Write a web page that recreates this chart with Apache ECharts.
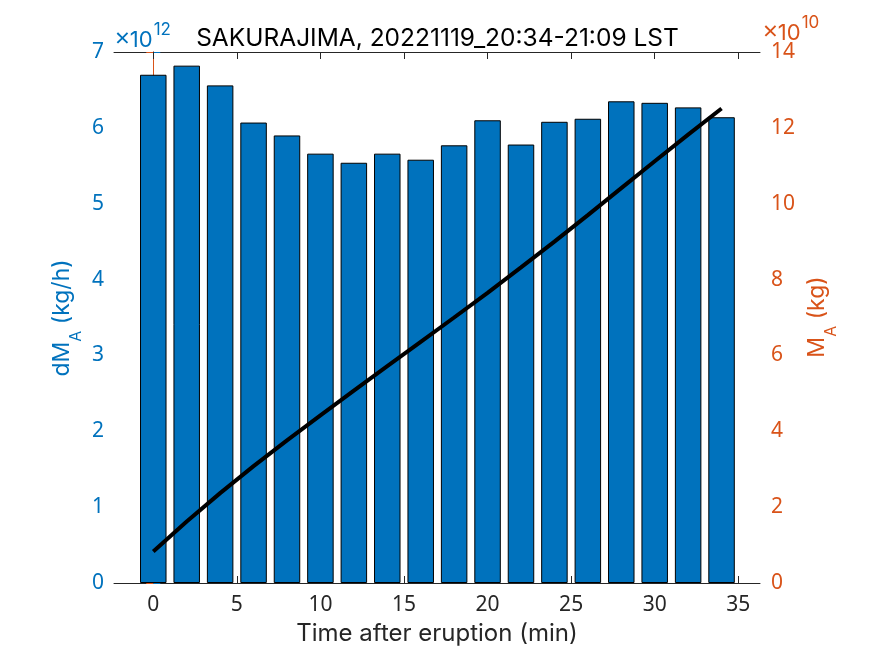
<!DOCTYPE html>
<html><head><meta charset="utf-8">
<script src="https://cdn.jsdelivr.net/npm/echarts@6/dist/echarts.min.js"></script>
<style>html,body{margin:0;padding:0;background:#fff}#c{width:875px;height:656px}</style>
</head><body><div id="c"></div>
<script>
// Time after eruption (min)
const timeMin = [0, 2, 4, 6, 8, 10, 12, 14, 16, 18, 20, 22, 24, 26, 28, 30, 32, 34];
// dM_A, mass eruption rate (x10^12 kg/h)
const dMA = [6.70, 6.82, 6.56, 6.07, 5.90, 5.66, 5.54, 5.66, 5.58, 5.77, 6.10, 5.78, 6.08, 6.12, 6.35, 6.33, 6.27, 6.14];
// M_A, cumulative mass (x10^10 kg)
const MA = [0.83, 1.62, 2.37, 3.08, 3.76, 4.42, 5.07, 5.72, 6.36, 7.00, 7.65, 8.32, 9.00, 9.70, 10.41, 11.12, 11.82, 12.51];
const xTickValues = [0, 5, 10, 15, 20, 25, 30, 35];
const titleText = 'SAKURAJIMA, 20221119_20:34-21:09 LST';

const FONT = 'Inter, "Noto Sans", sans-serif';
const TICKFONT = '"Noto Sans", Inter, sans-serif';
const BLUE = '#0072BD', ORANGE = '#D95319', DARK = '#262626';

const chart = echarts.init(document.getElementById('c'), null, {renderer: 'canvas'});
const option = {
  animation: false,
  backgroundColor: '#fff',
  title: {
    text: titleText, left: 'center', top: 21,
    textStyle: {fontFamily: FONT, fontSize: 24.5, fontWeight: 'normal', color: '#000'}
  },
  grid: {left: 114, right: 115, top: 52, bottom: 73, containLabel: false, outerBoundsMode: 'none'},
  xAxis: [{
    type: 'value', min: -2.35, max: 36.3, position: 'bottom',
    name: 'Time after eruption (min)', nameLocation: 'middle', nameGap: 39,
    nameTextStyle: {fontFamily: FONT, fontSize: 24, color: DARK},
    axisLine: {show: true, onZero: false, lineStyle: {color: DARK, width: 1}},
    axisTick: {show: true, inside: true, length: 7, customValues: xTickValues, lineStyle: {color: DARK}},
    axisLabel: {show: true, customValues: xTickValues, margin: 12, fontFamily: TICKFONT, fontSize: 21, color: DARK},
    splitLine: {show: false}
  }, {
    type: 'value', min: -2.35, max: 36.3, position: 'top',
    axisLine: {show: true, onZero: false, lineStyle: {color: DARK, width: 1}},
    axisTick: {show: true, inside: true, length: 7, customValues: xTickValues, lineStyle: {color: DARK}},
    axisLabel: {show: false},
    splitLine: {show: false}
  }],
  yAxis: [{
    type: 'value', min: 0, max: 7, interval: 1, position: 'left',
    axisLine: {show: true, lineStyle: {color: BLUE, width: 1}},
    axisTick: {show: true, inside: true, length: 7, lineStyle: {color: BLUE}},
    axisLabel: {margin: 10, fontFamily: TICKFONT, fontSize: 21, color: BLUE},
    splitLine: {show: false}
  }, {
    type: 'value', min: 0, max: 14, interval: 2, position: 'right',
    axisLine: {show: true, lineStyle: {color: ORANGE, width: 1}},
    axisTick: {show: true, inside: true, length: 7, lineStyle: {color: ORANGE}},
    axisLabel: {margin: 11, fontFamily: TICKFONT, fontSize: 21, color: ORANGE},
    splitLine: {show: false}
  }],
  series: [{
    type: 'bar', xAxisIndex: 0, yAxisIndex: 0,
    data: timeMin.map((t, i) => [t, dMA[i]]),
    barWidth: 26.5,
    itemStyle: {color: BLUE, borderColor: '#000', borderWidth: 1},
    z: 2
  }, {
    type: 'line', xAxisIndex: 0, yAxisIndex: 1,
    data: timeMin.map((t, i) => [t, MA[i]]),
    showSymbol: false, symbol: 'none', smooth: false,
    lineStyle: {color: '#000', width: 4},
    z: 5
  }],
  graphic: [
    {type: 'text', x: 115, y: 40,
     style: {text: '{x|×}{a|10}{b|12}', align: 'left', verticalAlign: 'middle', fill: BLUE,
       rich: {x: {fontFamily: TICKFONT, fontSize: 26, fill: BLUE}, a: {fontFamily: FONT, fontSize: 22, fill: BLUE}, b: {fontFamily: FONT, fontSize: 17, fill: BLUE, padding: [0, 0, 20, 1]}}}},
    {type: 'text', x: 763, y: 33,
     style: {text: '{x|×}{a|10}{b|10}', align: 'left', verticalAlign: 'middle', fill: ORANGE,
       rich: {x: {fontFamily: TICKFONT, fontSize: 26, fill: ORANGE}, a: {fontFamily: FONT, fontSize: 22, fill: ORANGE}, b: {fontFamily: FONT, fontSize: 17, fill: ORANGE, padding: [0, 0, 20, 1]}}}},
    {type: 'text', x: 61.6, y: 318, rotation: Math.PI / 2,
     style: {text: '{m|dM}{s|A}{m| (kg/h)}', align: 'center', verticalAlign: 'middle', fill: BLUE,
       rich: {m: {fontFamily: FONT, fontSize: 23, fill: BLUE}, s: {fontFamily: FONT, fontSize: 16, fill: BLUE, padding: [30, 0, 0, 0]}}}},
    {type: 'text', x: 817.3, y: 317, rotation: Math.PI / 2,
     style: {text: '{m|M}{s|A}{m| (kg)}', align: 'center', verticalAlign: 'middle', fill: ORANGE,
       rich: {m: {fontFamily: FONT, fontSize: 23, fill: ORANGE}, s: {fontFamily: FONT, fontSize: 16, fill: ORANGE, padding: [28, 0, 0, 0]}}}}
  ]
};
chart.setOption(option);
</script>
</body></html>
